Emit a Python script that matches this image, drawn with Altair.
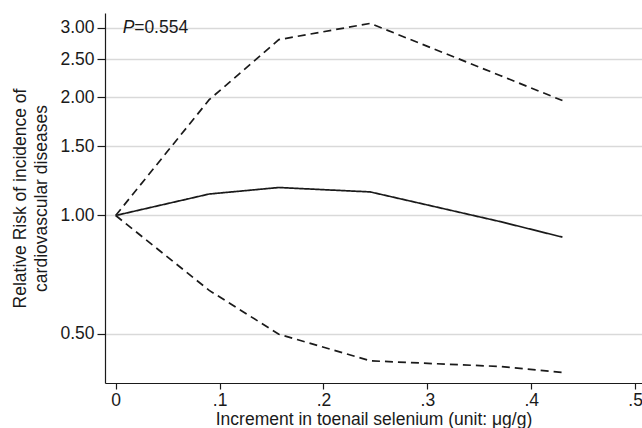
import altair as alt
import pandas as pd

# --- data ---
dose = [0.0, 0.09, 0.157, 0.245, 0.37, 0.43]
rr_est = [1.00, 1.134, 1.178, 1.148, 0.965, 0.881]
rr_lower = [1.00, 0.645, 0.499, 0.427, 0.413, 0.399]
rr_upper = [1.00, 1.97, 2.80, 3.08, 2.27, 1.96]

y_ticks = [0.5, 1.0, 1.5, 2.0, 2.5, 3.0]
x_ticks = [0.0, 0.1, 0.2, 0.3, 0.4, 0.5]

ann_text = ["P", "=0.554"]
ann_x = [0.0067, 0.0067]
ann_y = [3.0, 3.0]

FONT = "Liberation Sans"
INK = "#1a1a1a"
LABEL_SIZE = 17.5
TITLE_SIZE = 17.5

rows = []
for name, vals in [("estimate", rr_est), ("lower", rr_lower), ("upper", rr_upper)]:
    for d, v in zip(dose, vals):
        rows.append({"dose": d, "rr": v, "series": name})
df = pd.DataFrame(rows)

x_scale = alt.Scale(domain=[-0.0103, 0.5066], nice=False, zero=False)
y_scale = alt.Scale(type="log", domain=[0.375, 3.273], nice=False)

x_axis = alt.Axis(
    values=x_ticks,
    labelExpr="datum.value == 0 ? '0' : slice(format(datum.value, '.1f'), 1)",
    title="Increment in toenail selenium (unit: μg/g)",
    grid=False,
    tickSize=6,
    labelPadding=2,
    titlePadding=2,
)
y_axis = alt.Axis(
    values=y_ticks,
    format=".2f",
    title=["Relative Risk of incidence of", "cardiovascular diseases"],
    grid=True,
    gridColor="#d9d9d9",
    gridWidth=1.5,
    tickSize=8,
    labelPadding=3,
    titlePadding=9,
    titleLineHeight=21,
)

lines = alt.Chart(df).mark_line(strokeWidth=1.7, color=INK).encode(
    x=alt.X("dose:Q", scale=x_scale, axis=x_axis),
    y=alt.Y("rr:Q", scale=y_scale, axis=y_axis),
    strokeDash=alt.StrokeDash(
        "series:N",
        scale=alt.Scale(domain=["estimate", "lower", "upper"],
                        range=[[1, 0], [8, 5], [8, 5]]),
        legend=None,
    ),
    detail="series:N",
    order="dose:Q",
)

ann = pd.DataFrame({"text": ann_text, "x": ann_x, "y": ann_y})
p_text = alt.Chart(ann.iloc[[0]]).mark_text(
    font=FONT, fontSize=LABEL_SIZE, fontStyle="italic", align="left", baseline="middle", color=INK
).encode(x=alt.X("x:Q", scale=x_scale), y=alt.Y("y:Q", scale=y_scale), text="text:N")
v_text = alt.Chart(ann.iloc[[1]]).mark_text(
    font=FONT, fontSize=LABEL_SIZE, align="left", baseline="middle", color=INK, dx=11.5
).encode(x=alt.X("x:Q", scale=x_scale), y=alt.Y("y:Q", scale=y_scale), text="text:N")

chart = alt.layer(lines, p_text, v_text).properties(
    width=537,
    height=370,
    autosize=alt.AutoSizeParams(type="none"),
    padding={"left": 105, "top": 13, "right": 0, "bottom": 45},
    background="white",
).configure_view(stroke=None).configure_axis(
    domainColor=INK,
    domainWidth=1.2,
    tickColor=INK,
    tickWidth=1.2,
    labelFont=FONT,
    labelFontSize=LABEL_SIZE,
    labelColor=INK,
    titleFont=FONT,
    titleFontSize=TITLE_SIZE,
    titleFontWeight="normal",
    titleColor=INK,
)

chart.save("out.html", embed_options={"renderer": "svg", "actions": False})
